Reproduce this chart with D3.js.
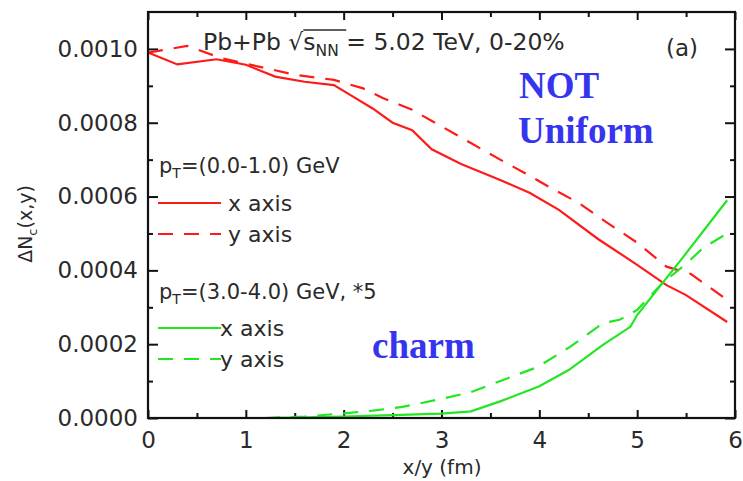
<!DOCTYPE html>
<html><head><meta charset="utf-8">
<script src="https://cdn.jsdelivr.net/npm/d3@7"></script>
<style>
body{margin:0;background:#fff;}
svg{display:block;}
</style></head>
<body><svg id="c" width="743" height="481"></svg>
<script>
// ---- data ----
const xTicks = [0,1,2,3,4,5,6];
const yTicks = [0,0.0002,0.0004,0.0006,0.0008,0.0010];
const xMinor = [0.5,1.5,2.5,3.5,4.5,5.5];
const yMinor = [0.0001,0.0003,0.0005,0.0007,0.0009];

const lowX_x = [0,0.3,0.7,1.0,1.3,1.6,1.9,2.1,2.3,2.5,2.7,2.9,3.2,3.6,3.9,4.2,4.6,5.0,5.3,5.5,5.92];
const lowX_v = [0.00099,0.000958,0.000972,0.000957,0.000925,0.000911,0.000902,0.00087,0.000838,0.0008,0.00078,0.000728,0.000688,0.000645,0.00061,0.000564,0.000485,0.000415,0.00036,0.000333,0.00026];
const lowY_x = [0,0.4,0.75,1.0,1.5,1.9,2.2,2.4,2.7,3.0,3.3,3.6,3.85,4.1,4.4,4.65,5.0,5.3,5.55,5.92];
const lowY_v = [0.00099,0.001008,0.000975,0.00096,0.00093,0.000916,0.000893,0.000867,0.000835,0.00079,0.000745,0.0007,0.000664,0.000626,0.000583,0.000537,0.000475,0.00041,0.00039,0.00032];
const highX_x = [1.2,1.6,2.0,2.5,3.0,3.3,3.6,4.0,4.3,4.65,4.93,5.0,5.26,5.47,5.92];
const highX_v = [0,0.000002,0.000004,0.000008,0.000012,0.000018,0.000045,0.000086,0.00013,0.000198,0.000247,0.000279,0.000366,0.000436,0.00059];
const highY_x = [1.2,1.6,2.06,2.3,2.6,2.95,3.3,3.63,3.98,4.31,4.65,4.82,5.0,5.26,5.51,5.67,5.92];
const highY_v = [0,0.000004,0.000014,0.00002,0.00003,0.000049,0.00007,0.000103,0.000138,0.000192,0.000257,0.000266,0.000293,0.000366,0.00042,0.00046,0.0005];

const RED = "#ff1a1a", GREEN = "#22e622", BLUE = "#3535f0", INK = "#2a2a2a";
const SANS = "DejaVu Sans, sans-serif";

// ---- chart ----
const svg = d3.select("#c");
const L=148, R=735, T=12, B=418;
const x = d3.scaleLinear().domain([0,6]).range([L,R]);
const y = d3.scaleLinear().domain([0,0.0011]).range([B,T]);

function txt(sel){ return sel.style("font-family",SANS).style("fill",INK); }

// axes (ticks inward)
const fmt = d3.format(".4f");
const gL = svg.append("g").attr("transform",`translate(${L},0)`)
  .call(d3.axisLeft(y).tickValues(yTicks).tickFormat(fmt).tickSizeInner(-10).tickSizeOuter(0).tickPadding(10));
const gB = svg.append("g").attr("transform",`translate(0,${B})`)
  .call(d3.axisBottom(x).tickValues(xTicks).tickFormat(d3.format("d")).tickSizeInner(-8).tickSizeOuter(0).tickPadding(14));
const gR = svg.append("g").attr("transform",`translate(${R},0)`)
  .call(d3.axisRight(y).tickValues(yTicks).tickFormat("").tickSizeInner(-10).tickSizeOuter(0));
const gT = svg.append("g").attr("transform",`translate(0,${T})`)
  .call(d3.axisTop(x).tickValues(xTicks).tickFormat("").tickSizeInner(-8).tickSizeOuter(0));
const gLm = svg.append("g").attr("transform",`translate(${L},0)`)
  .call(d3.axisLeft(y).tickValues(yMinor).tickFormat("").tickSizeInner(-5).tickSizeOuter(0));
const gRm = svg.append("g").attr("transform",`translate(${R},0)`)
  .call(d3.axisRight(y).tickValues(yMinor).tickFormat("").tickSizeInner(-5).tickSizeOuter(0));
const gBm = svg.append("g").attr("transform",`translate(0,${B})`)
  .call(d3.axisBottom(x).tickValues(xMinor).tickFormat("").tickSizeInner(-5).tickSizeOuter(0));
const gTm = svg.append("g").attr("transform",`translate(0,${T})`)
  .call(d3.axisTop(x).tickValues(xMinor).tickFormat("").tickSizeInner(-5).tickSizeOuter(0));
[gL,gB,gR,gT,gLm,gRm,gBm,gTm].forEach(g=>{
  g.select(".domain").remove();
  g.selectAll(".tick line").attr("stroke","#111").attr("stroke-width",2);
  txt(g.selectAll(".tick text")).style("font-size","23px");
});

// curves
const line = d3.line().x(d=>x(d[0])).y(d=>y(d[1])).curve(d3.curveLinear);
const series = [
  {xs:lowX_x, vs:lowX_v, c:RED, dash:null},
  {xs:lowY_x, vs:lowY_v, c:RED, dash:"15,11"},
  {xs:highX_x, vs:highX_v, c:GREEN, dash:null},
  {xs:highY_x, vs:highY_v, c:GREEN, dash:"15,11"}
];
series.forEach(s=>{
  svg.append("path").datum(d3.zip(s.xs,s.vs))
    .attr("d",line).attr("fill","none").attr("stroke",s.c).attr("stroke-width",2.2)
    .attr("stroke-dasharray",s.dash);
});

// frame
svg.append("rect").attr("x",L).attr("y",T).attr("width",R-L).attr("height",B-T)
  .attr("fill","none").attr("stroke","#111").attr("stroke-width",2.2);

// title
const t = txt(svg.append("text").attr("x",203).attr("y",50)).style("font-size","23.5px");
t.append("tspan").text("Pb+Pb √");
t.append("tspan").text("s");
t.append("tspan").style("font-size","15.5px").attr("dy",6).text("NN");
t.append("tspan").attr("dy",-6).text(" = 5.02 TeV, 0-20%");
// overline over radicand
const tn = t.node();
const ext0 = tn.getExtentOfChar(7), extN = tn.getExtentOfChar(10);
svg.append("line").attr("x1",ext0.x).attr("x2",extN.x+extN.width)
  .attr("y1",30).attr("y2",30).attr("stroke",INK).attr("stroke-width",1.6);

txt(svg.append("text").attr("x",666).attr("y",56)).style("font-size","23px").text("(a)");

// legend
function ptLabel(yb, rest){
  const tx = txt(svg.append("text").attr("x",159).attr("y",yb)).style("font-size","21px");
  tx.append("tspan").text("p");
  tx.append("tspan").style("font-size","14px").attr("dy",5).text("T");
  tx.append("tspan").attr("dy",-5).text(rest);
}
ptLabel(173,"=(0.0-1.0) GeV");
ptLabel(299,"=(3.0-4.0) GeV, *5");
const legend = [
  {y:203, c:RED, dash:null, label:"x axis", tx:228},
  {y:234, c:RED, dash:"15,11", label:"y axis", tx:228},
  {y:328, c:GREEN, dash:null, label:"x axis", tx:220},
  {y:359, c:GREEN, dash:"15,11", label:"y axis", tx:220}
];
legend.forEach(d=>{
  svg.append("line").attr("x1",158).attr("x2",221).attr("y1",d.y).attr("y2",d.y)
    .attr("stroke",d.c).attr("stroke-width",2.2).attr("stroke-dasharray",d.dash);
  txt(svg.append("text").attr("x",d.tx).attr("y",d.y+8)).style("font-size","22px").text(d.label);
});

// y axis label
const yl = txt(svg.append("text").attr("transform","translate(32,224) rotate(-90)")
  .attr("text-anchor","middle")).style("font-size","19px");
yl.append("tspan").text("ΔN");
yl.append("tspan").style("font-size","13px").attr("dy",5).text("c");
yl.append("tspan").attr("dy",-5).text("(x,y)");

// x axis label
txt(svg.append("text").attr("x",442).attr("y",474).attr("text-anchor","middle")).style("font-size","20px").text("x/y (fm)");

// annotations
const ann = [{t:"NOT",x:519,y:98},{t:"Uniform",x:518,y:143},{t:"charm",x:372,y:358}];
ann.forEach(a=>{
  svg.append("text").attr("x",a.x).attr("y",a.y)
    .style("font-family","Liberation Serif, Times New Roman, serif").style("font-weight","bold")
    .style("font-size","37px").style("fill",BLUE).text(a.t);
});
</script></body></html>
